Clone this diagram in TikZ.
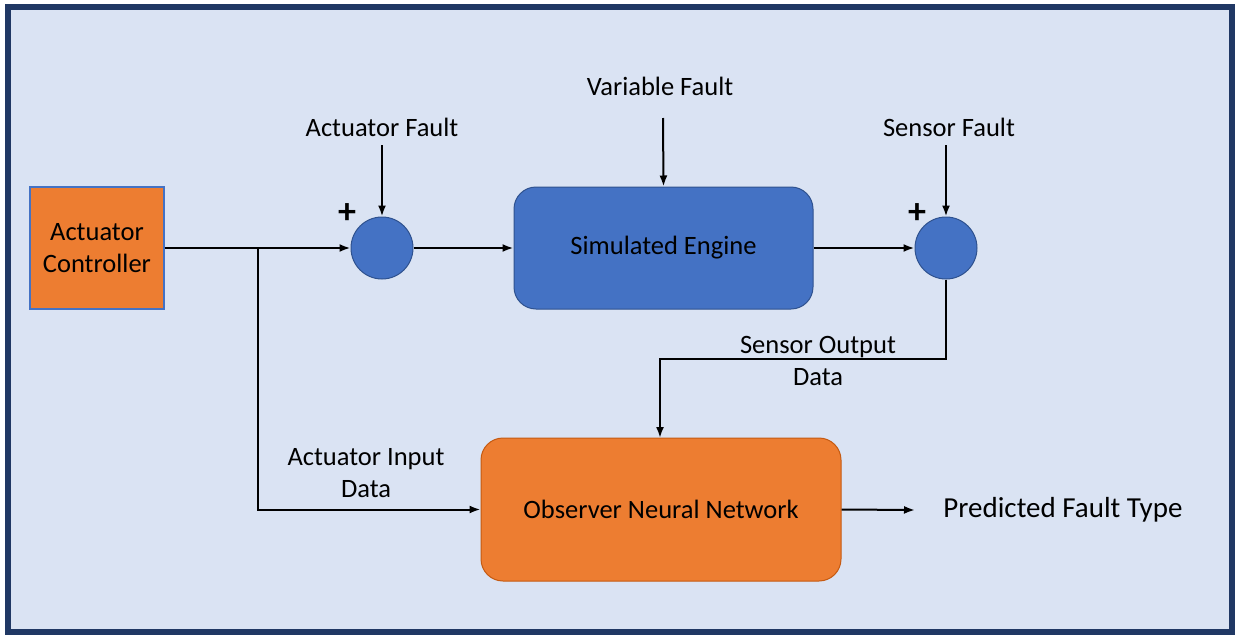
\documentclass[tikz,border=0pt]{standalone}
\usepackage{fontspec}
\setmainfont{Carlito}
\usetikzlibrary{arrows.meta}
\definecolor{bgblue}{HTML}{DAE3F3}
\definecolor{frame}{HTML}{203864}
\definecolor{orng}{HTML}{ED7D31}
\definecolor{orngdark}{HTML}{C55A11}
\definecolor{blu}{HTML}{4472C4}
\definecolor{bludark}{HTML}{2F528F}
\tikzset{
  lbl/.style={font=\fontsize{26.5}{32}\selectfont, align=center, inner sep=0pt},
  conn/.style={line width=2pt, -{Latex[length=11pt,width=8pt]}},
  sumnode/.style={circle, fill=blu, draw=bludark, line width=1pt, minimum size=62pt, inner sep=0pt},
  plusl/.style={font=\fontsize{36}{36}\selectfont\bfseries, inner sep=0pt},
}
\begin{document}
\begin{tikzpicture}[x=1pt,y=-1pt]
\useasboundingbox (0,0) rectangle (1235,635);
\draw[fill=bgblue, draw=frame, line width=6pt] (8,7) rectangle (1232,632);
\node[draw=blu, fill=orng, line width=1.2pt, minimum width=134pt, minimum height=122pt, inner sep=0pt, lbl] (ac) at (97,248) {Actuator\\Controller};
\node[sumnode] (s1) at (382,248) {};
\node[sumnode] (s2) at (946,248) {};
\node[draw=bludark, fill=blu, line width=1pt, rounded corners=22pt, minimum width=299pt, minimum height=122pt, inner sep=0pt, lbl] (eng) at (663.5,248) {Simulated Engine};
\node[draw=orngdark, fill=orng, line width=1pt, rounded corners=22pt, minimum width=360pt, minimum height=143pt, inner sep=0pt, lbl] (obs) at (661,509.5) {Observer Neural Network};
\node[lbl] (af) at (382,127) {Actuator Fault};
\node[lbl] (vf) at (660,86) {Variable Fault};
\node[lbl] (sf) at (949,127) {Sensor Fault};
\node[lbl] (sod) at (818,361) {Sensor Output\\Data};
\node[lbl] (aid) at (366,473) {Actuator Input\\Data};
\node[font=\fontsize{29}{34}\selectfont, inner sep=0pt] (pft) at (1063,510) {Predicted Fault Type};
\node[plusl] (p1) at (347,214) {+};
\node[plusl] (p2) at (917,214) {+};
\coordinate (af0) at (382,145);
\coordinate (vf0) at (663,118);
\coordinate (sf0) at (946,145);
\coordinate (br) at (258,248);
\coordinate (out) at (915,510);
\draw[conn] (af0) -- (s1.north);
\draw[conn] (vf0) -- (eng.north);
\draw[conn] (sf0) -- (s2.north);
\draw[conn] (ac.east) -- (s1.west);
\draw[conn] (s1.east) -- (eng.west);
\draw[conn] (eng.east) -- (s2.west);
\draw[conn] (br) |- (obs.west);
\draw[conn] (s2.south) |- (660,359) -- (660,438);
\draw[conn] (obs.east) -- (out);
\end{tikzpicture}
\end{document}
